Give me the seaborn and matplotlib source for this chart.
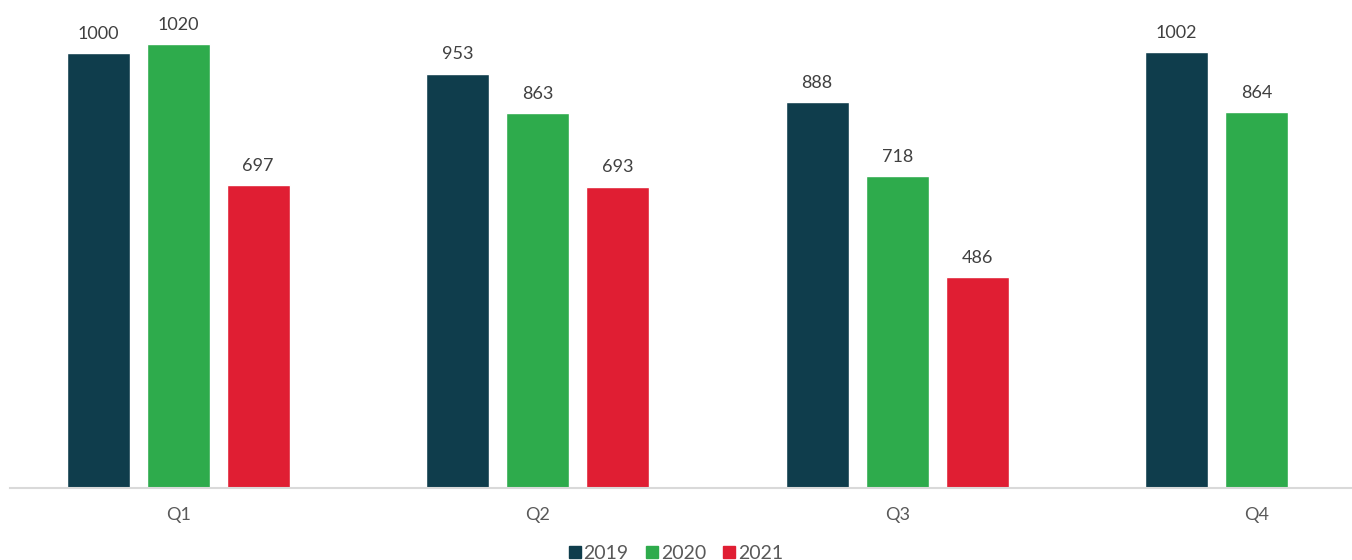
import numpy as np
import pandas as pd
import matplotlib
matplotlib.use("Agg")
import matplotlib.pyplot as plt
import seaborn as sns
from matplotlib.patches import Patch

# data
quarters = ['Q1', 'Q2', 'Q3', 'Q4']
years = ['2019', '2020', '2021']
vals_2019 = [1000, 953, 888, 1002]
vals_2020 = [1020, 863, 718, 864]
vals_2021 = [697, 693, 486, np.nan]

colors = ['#0f3d4c', '#2eab4c', '#e01e33']

df = pd.DataFrame({
    'Quarter': quarters * 3,
    'Year': [years[0]] * 4 + [years[1]] * 4 + [years[2]] * 4,
    'Value': vals_2019 + vals_2020 + vals_2021,
})

sns.set_style('white')
plt.rcParams['font.family'] = ['Lato', 'DejaVu Sans']

fig = plt.figure(figsize=(13.52, 5.6), dpi=100)
# axes from x=10px to right edge, baseline at y=488px
ax = fig.add_axes([10 / 1352, (560 - 488) / 560, 1342 / 1352, 488 / 560])

sns.barplot(data=df, x='Quarter', y='Value', hue='Year', palette=colors,
            width=0.6675, gap=0.213, saturation=1, legend=False, ax=ax)

for cont in ax.containers:
    labels = ['' if np.isnan(v) else f'{int(v)}' for v in cont.datavalues]
    ax.bar_label(cont, labels=labels, padding=8, fontsize=13, color='#404040')

ax.set_xlim(-0.4677, 3.2653)
ax.set_ylim(0, 1122)
ax.set_xlabel('')
ax.set_ylabel('')
ax.set_yticks([])
for s in ['top', 'right', 'left']:
    ax.spines[s].set_visible(False)
ax.spines['bottom'].set_color('#d9d9d9')
ax.spines['bottom'].set_linewidth(1.5)
ax.tick_params(axis='x', length=0, pad=14, labelsize=13, labelcolor='#595959')

handles = [Patch(color=c, label=y) for c, y in zip(colors, years)]
fig.legend(handles=handles, loc='lower center', bbox_to_anchor=(0.5, -0.035),
           ncol=3, frameon=False, fontsize=14, handlelength=0.6,
           handleheight=0.6, handletextpad=0.15, columnspacing=0.9,
           labelcolor='#595959')

fig.savefig('out.png', dpi=100)
